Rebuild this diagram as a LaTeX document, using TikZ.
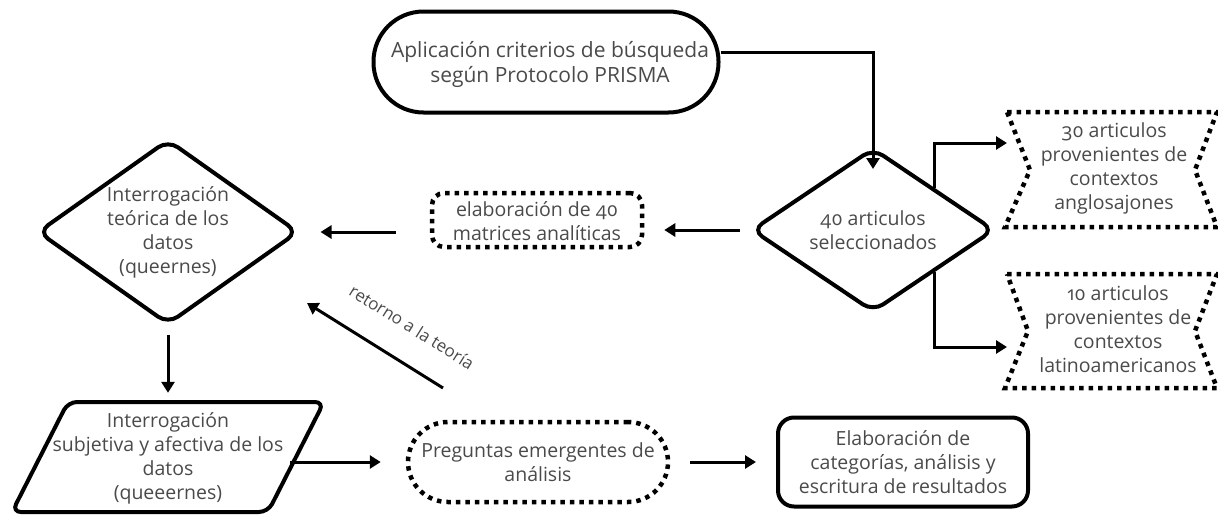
\documentclass[tikz,border=0pt]{standalone}
\usepackage{fontspec}
\setmainfont[Numbers=OldStyle]{Open Sans}
\usetikzlibrary{shapes.geometric,arrows.meta,calc}
\definecolor{txtgray}{HTML}{4A4A4A}
\tikzset{
  txt/.style={font=\fontsize{19.5}{24}\selectfont, text=txtgray, align=center, inner sep=0pt},
  solidbox/.style={draw=black, line width=4pt},
  dotbox/.style={draw=black, line width=4.5pt, dash pattern=on 4.5pt off 5pt},
  arr/.style={line width=3pt, -{Triangle[width=13pt,length=11pt]}},
}
\begin{document}
\begin{tikzpicture}[x=1pt,y=-1pt]
\useasboundingbox (0,0) rectangle (1218,514);
% top stadium
\node[solidbox, rounded corners=50pt, minimum width=345pt, minimum height=101pt] (prisma) at (546,62) {};
\node[txt, font=\fontsize{21}{25}\selectfont] at (550,64) {Aplicación criterios de búsqueda\\según Protocolo PRISMA};
% selected diamond
\node[solidbox, diamond, rounded corners=12pt, minimum width=243pt, minimum height=164pt, inner sep=0pt] (sel) at (873,230) {};
\node[txt] at (873,230) {40 articulos\\seleccionados};
% hexagon-like dotted shapes
\node[txt] (hexA) at (1114,168) {30 articulos\\provenientes de\\contextos\\anglosajones};
\draw[dotbox] (1007,112) -- (1217,112) -- (1195,170) -- (1217,227) -- (1005,227) -- (1030,170) -- cycle;
\node[txt] (hexB) at (1118,329) {10 articulos\\provenientes de\\contextos\\latinoamericanos};
\draw[dotbox] (1007,274) -- (1217,274) -- (1195,331) -- (1217,388) -- (1005,388) -- (1028,331) -- cycle;
\coordinate (hAin) at (1007,143);
\coordinate (hBin) at (1007,347);
% matrices
\node[dotbox, rounded corners=12pt, minimum width=210pt, minimum height=54pt] (mat) at (537,220) {};
\node[txt] at (537,221) {elaboración de 40\\matrices analíticas};
% theoretical diamond
\node[solidbox, diamond, rounded corners=12pt, minimum width=261pt, minimum height=185pt, inner sep=0pt] (teo) at (168,232) {};
\node[txt] at (168,232) {Interrogación\\teórica de los\\datos\\(queernes)};
% parallelogram
\node[minimum width=260pt, minimum height=110pt, inner sep=0pt] (par) at (168,457) {};
\draw[solidbox, rounded corners=9pt] (68,402) -- (324,402) -- (268,512) -- (12,512) -- cycle;
\node[txt] at (168,458) {Interrogación\\subjetiva y afectiva de los\\datos\\(queeernes)};
% preguntas
\node[dotbox, rounded corners=40pt, minimum width=260pt, minimum height=80pt] (preg) at (538,462) {};
\node[txt] at (538,462) {Preguntas emergentes de\\análisis};
% elaboracion
\node[solidbox, rounded corners=16pt, minimum width=250pt, minimum height=89pt] (elab) at (903,462) {};
\node[txt] at (903,462) {Elaboración de\\categorías, análisis y\\escritura de resultados};
% retorno
\coordinate (rt1) at (443,388);
\coordinate (rt2) at (307,303);
\node[txt, font=\fontsize{17}{20}\selectfont, rotate=-32] (rtlab) at (412,327) {retorno a la teoría};
% connectors
\draw[arr] ([yshift=10pt]prisma.east) -| ([yshift=-23pt]sel.north);
\draw[arr] (sel.north east) |- (hAin);
\draw[arr] (sel.south east) |- (hBin);
\draw[arr] ([xshift=-10pt]sel.west) -- ([xshift=20pt]sel.west -| mat.east);
\draw[arr] ([xshift=-34pt]mat.west |- teo.east) -- ([xshift=20pt]teo.east);
\draw[arr] ([yshift=-8pt]teo.south) -- ([yshift=9pt]teo.south |- par.north);
\draw[arr] ([xshift=-8pt]par.east |- preg.west) -- ([xshift=-25pt]preg.west);
\draw[arr] ([xshift=20pt]preg.east) -- ([xshift=-20pt]elab.west);
\draw[arr] (rt1) -- (rt2);
\end{tikzpicture}
\end{document}
